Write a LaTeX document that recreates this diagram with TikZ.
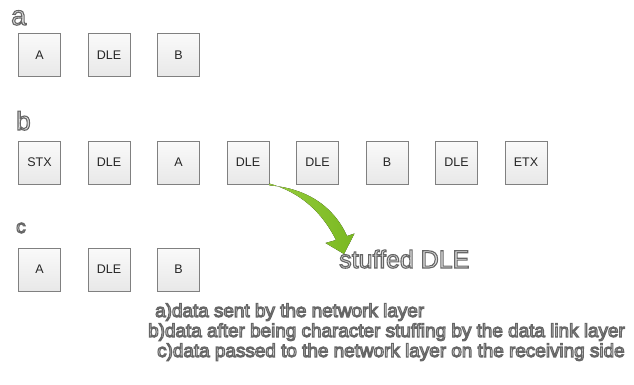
\documentclass[tikz,border=0pt]{standalone}
\usepackage{fontspec}
\setmainfont{Liberation Sans}
\usetikzlibrary{shadows}
\definecolor{boxborder}{RGB}{128,128,128}
\definecolor{boxtop}{RGB}{250,250,250}
\definecolor{boxbot}{RGB}{232,232,232}
\definecolor{arrowgreen}{RGB}{122,184,34}
\definecolor{arrowlight}{RGB}{150,205,60}
\definecolor{hollow}{RGB}{225,225,225}
\newcommand{\hollowtext}[1]{{\color{hollow}\special{pdf:code 2 Tr 1.1 w 0.4 0.4 0.4 RG}#1\special{pdf:code 0 Tr}}}
\begin{document}
\begin{tikzpicture}[x=1pt,y=-1pt,
  cell/.style={draw=boxborder,line width=0.8pt,top color=boxtop,bottom color=boxbot,
    minimum width=42pt,minimum height=43pt,inner sep=0pt,font=\fontsize{12.5}{14}\selectfont,
    text=black!85,
    drop shadow={opacity=0.12,shadow xshift=0.8pt,shadow yshift=-0.8pt}},
  rowlabel/.style={anchor=base west,inner sep=0pt},
  caption/.style={anchor=base west,inner sep=0pt,font=\fontsize{18.9}{20}\selectfont}]
\useasboundingbox (0,0) rectangle (634,385);
% row a
\node[rowlabel,font=\fontsize{27}{28}\selectfont] (la) at (11,25) {\hollowtext{a}};
\node[cell] (a1) at (39.5,55) {A};
\node[cell] (a2) at (109,55) {DLE};
\node[cell] (a3) at (178.5,55) {B};
% row b
\node[rowlabel,font=\fontsize{26}{28}\selectfont] (lb) at (16,130) {\hollowtext{b}};
\node[cell] (b1) at (39.5,162.5) {STX};
\node[cell] (b2) at (109,162.5) {DLE};
\node[cell] (b3) at (178.5,162.5) {A};
\node[cell] (b4) at (248,162.5) {DLE};
\node[cell] (b5) at (317.5,162.5) {DLE};
\node[cell] (b6) at (387,162.5) {B};
\node[cell] (b7) at (456.5,162.5) {DLE};
\node[cell] (b8) at (526,162.5) {ETX};
% row c
\node[rowlabel,font=\fontsize{19}{22}\selectfont] (lc) at (16,233) {\hollowtext{c}};
\node[cell] (c1) at (39.5,269.5) {A};
\node[cell] (c2) at (109,269.5) {DLE};
\node[cell] (c3) at (178.5,269.5) {B};
% green arrow from the stuffed DLE
\coordinate (tail) at (b4.south east);
\fill[left color=arrowlight,right color=arrowgreen]
  ([yshift=-1pt]tail) .. controls (305,188) and (333,205) .. (347,236)
  -- (354.5,233.5) -- (344,254) -- (325.5,243) -- (336,240)
  .. controls (322,212) and (300,192) .. ([yshift=0.8pt]tail) -- cycle;
\node[anchor=base west,inner sep=0pt,font=\fontsize{25}{27}\selectfont] (stuffed) at (339,268) {\hollowtext{stuffed DLE}};
% captions
\node[caption] (cap1) at (155,317) {\hollowtext{a)data sent by the network layer}};
\node[caption] (cap2) at (148,337) {\hollowtext{b)data after being character stuffing by the data link layer}};
\node[caption] (cap3) at (157,357) {\hollowtext{c)data passed to the network layer on the receiving side}};
\end{tikzpicture}
\end{document}
